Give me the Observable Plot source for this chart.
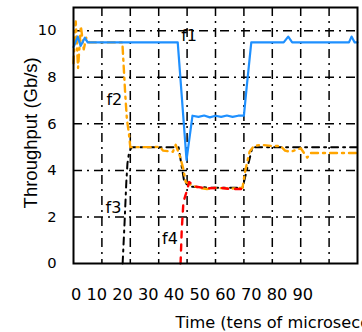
<!DOCTYPE html>
<html>
<head>
<meta charset="utf-8">
<script src="https://cdn.jsdelivr.net/npm/d3@7"></script>
<script src="https://cdn.jsdelivr.net/npm/@observablehq/plot@0.6"></script>
<style>
  html, body { margin: 0; padding: 0; background: white; overflow: hidden; }
</style>
</head>
<body>
<div id="chart"></div>
<script>
// ---- data ----
const xTickLabels = ["0", "10", "20", "30", "40", "50", "60", "70", "80", "90"];
const yTicks = [0, 2, 4, 6, 8, 10];
const gridXValues = [10, 20, 30, 40, 50, 60, 70, 80, 90];
const gridYValues = [2, 4, 6, 8, 10];

const f1Time = [0, 1.5, 2.5, 4, 5, 10, 20, 30, 36.7, 39.8, 41.9, 44, 46, 48, 50, 52, 54, 56, 58, 60, 61, 62.6, 66, 70, 74, 75.6, 77, 80, 85, 90, 95, 97, 97.9, 99, 100];
const f1Vals = [9.3, 9.75, 9.35, 9.7, 9.5, 9.5, 9.5, 9.5, 9.5, 4.45, 6.35, 6.3, 6.36, 6.28, 6.35, 6.3, 6.36, 6.3, 6.35, 6.35, 7.6, 9.5, 9.5, 9.5, 9.5, 9.75, 9.5, 9.5, 9.5, 9.5, 9.5, 9.5, 9.75, 9.5, 9.5];

const f2Time = [0, 0.8, 1.6, 2.6, 3.6, 4.5, 5.5, 17.2, 18.2, 18.8, 19.5, 20, 28, 30.5, 31.5, 35, 36, 37.5, 38.6, 39.5, 41, 44, 47, 50, 56, 59.5, 60.5, 62, 63.5, 66, 70, 72.9, 74.5, 76.4, 80, 82.3, 83.5, 85, 90, 95, 100];
const f2Vals = [8.6, 10.4, 8.4, 10.2, 9.2, 9.7, 9.5, 9.5, 7.3, 6.2, 5.6, 5.0, 5.0, 5.02, 4.85, 4.8, 5.1, 4.6, 4.1, 3.5, 3.4, 3.25, 3.2, 3.25, 3.22, 3.25, 4.0, 4.8, 5.05, 5.1, 5.05, 5.05, 4.85, 4.8, 4.95, 4.55, 4.75, 4.75, 4.75, 4.75, 4.75];

const f3Time = [17.3, 18, 18.6, 19, 19.6, 20.5, 30, 37, 39, 41, 50, 59.5, 61, 63, 70, 80, 90, 100];
const f3Vals = [0, 1.8, 3.5, 4.3, 4.8, 5.0, 5.0, 5.0, 3.5, 3.3, 3.25, 3.25, 4.0, 5.0, 5.0, 5.0, 5.0, 5.0];

const f4Time = [37.7, 38.1, 38.7, 40.1, 40.7, 43.0, 47, 52, 55, 59.2];
const f4Vals = [0, 1.4, 2.64, 3.2, 3.5, 3.3, 3.23, 3.25, 3.2, 3.2];

const seriesNames = ["f1", "f2", "f3", "f4"];
const labelTime = [37.9, 11.6, 11.27, 31.2];
const labelVals = [9.54, 6.81, 2.19, 0.82];

const yTitle = "Throughput (Gb/s)";
const xTitle = "Time (tens of microseconds)";

// ---- build tables ----
const toRows = (ts, vs) => ts.map((t, i) => ({t, v: vs[i]}));
const f1 = toRows(f1Time, f1Vals);
const f2 = toRows(f2Time, f2Vals);
const f3 = toRows(f3Time, f3Vals);
const f4 = toRows(f4Time, f4Vals);
const labels = seriesNames.map((name, i) => ({name, t: labelTime[i], v: labelVals[i]}));

const gridDash = "9,5,2,5";

const chart = Plot.plot({
  width: 362,
  height: 332,
  marginLeft: 73,
  marginRight: 5,
  marginTop: 7,
  marginBottom: 69,
  x: {domain: [0, 100], axis: null},
  y: {domain: [0, 11], axis: null},
  style: {fontFamily: "DejaVu Sans", background: "white", color: "black"},
  marks: [
    Plot.gridX(gridXValues, {stroke: "black", strokeOpacity: 1, strokeWidth: 1.5, strokeDasharray: gridDash}),
    Plot.gridY(gridYValues, {stroke: "black", strokeOpacity: 1, strokeWidth: 1.5, strokeDasharray: gridDash}),
    Plot.axisY(yTicks, {tickSize: 0, tickPadding: 17, fontSize: 14.7, fontFamily: "DejaVu Sans", label: null}),
    Plot.line(f3, {x: "t", y: "v", stroke: "black", strokeWidth: 2, strokeDasharray: "7,5,2,5"}),
    Plot.line(f2, {x: "t", y: "v", stroke: "#FFA500", strokeWidth: 2.4, strokeDasharray: "7,5,2,5"}),
    Plot.line(f4, {x: "t", y: "v", stroke: "#FF0000", strokeWidth: 2.4, strokeDasharray: "6,7"}),
    Plot.line(f1, {x: "t", y: "v", stroke: "#1E90FF", strokeWidth: 2.2}),
    Plot.text(labels, {x: "t", y: "v", text: "name", textAnchor: "start", lineAnchor: "bottom", fontSize: 16, fontFamily: "DejaVu Sans", fill: "black"}),
    Plot.frame({stroke: "black", strokeWidth: 2}),
    Plot.text([xTickLabels.join(" ")], {frameAnchor: "bottom-left", dx: -2.4, dy: 36, textAnchor: "start", lineAnchor: "bottom", fontSize: 16.2, fontFamily: "DejaVu Sans", fill: "black"}),
    Plot.text([xTitle], {frameAnchor: "bottom-left", dx: 102, dy: 64, textAnchor: "start", lineAnchor: "bottom", fontSize: 16.2, fontFamily: "DejaVu Sans", fill: "black"}),
    Plot.text([yTitle], {frameAnchor: "left", dx: -42, dy: -2.7, rotate: -90, textAnchor: "middle", lineAnchor: "middle", fontSize: 18.5, fontFamily: "Liberation Sans", fill: "black"})
  ]
});
document.getElementById("chart").appendChild(chart);
</script>
</body>
</html>
